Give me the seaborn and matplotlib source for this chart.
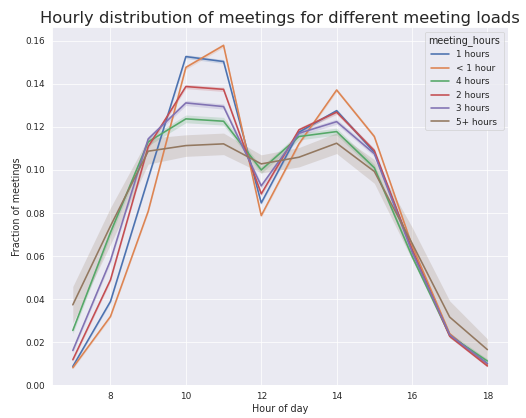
import numpy as np
import pandas as pd
import seaborn as sns
import matplotlib
matplotlib.use("Agg")
import matplotlib.pyplot as plt

hours = [7, 8, 9, 10, 11, 12, 13, 14, 15, 16, 17, 18]
groups = ["1 hours", "< 1 hour", "4 hours", "2 hours", "3 hours", "5+ hours"]

v_1h = [0.0088, 0.039, 0.096, 0.1526, 0.1503, 0.0847, 0.1175, 0.1275, 0.1082, 0.063, 0.0235, 0.0101]
v_lt1 = [0.0082, 0.032, 0.0808, 0.1476, 0.1578, 0.0788, 0.1121, 0.1371, 0.1155, 0.065, 0.0240, 0.0095]
v_4h = [0.0255, 0.071, 0.1130, 0.1237, 0.1226, 0.1000, 0.1155, 0.1178, 0.1010, 0.060, 0.0232, 0.0113]
v_2h = [0.0119, 0.049, 0.1108, 0.1387, 0.1374, 0.0889, 0.1186, 0.1268, 0.1090, 0.063, 0.0228, 0.0090]
v_3h = [0.0162, 0.058, 0.1144, 0.1311, 0.1294, 0.0926, 0.1170, 0.1224, 0.1075, 0.062, 0.0235, 0.0101]
v_5h = [0.0374, 0.074, 0.1087, 0.1113, 0.1121, 0.1028, 0.1059, 0.1124, 0.0993, 0.066, 0.0317, 0.0166]

# half-widths of the confidence bands
e_1h = [0.0006, 0.0007, 0.0008, 0.0009, 0.0009, 0.0008, 0.0008, 0.0008, 0.0008, 0.0007, 0.0005, 0.0004]
e_lt1 = [0.0006, 0.0007, 0.0008, 0.0009, 0.0009, 0.0008, 0.0008, 0.0008, 0.0008, 0.0007, 0.0005, 0.0004]
e_4h = [0.0015, 0.0018, 0.0018, 0.0018, 0.0018, 0.0016, 0.0016, 0.0016, 0.0016, 0.0014, 0.0012, 0.0010]
e_2h = [0.0008, 0.0009, 0.0010, 0.0010, 0.0010, 0.0010, 0.0010, 0.0010, 0.0010, 0.0009, 0.0007, 0.0005]
e_3h = [0.0010, 0.0011, 0.0012, 0.0012, 0.0012, 0.0012, 0.0012, 0.0012, 0.0012, 0.0010, 0.0008, 0.0006]
e_5h = [0.0085, 0.0085, 0.0060, 0.0050, 0.0050, 0.0042, 0.0045, 0.0048, 0.0055, 0.0075, 0.0075, 0.0050]

values = [v_1h, v_lt1, v_4h, v_2h, v_3h, v_5h]
errs = [e_1h, e_lt1, e_4h, e_2h, e_3h, e_5h]

rows = []
for g, vals, es in zip(groups, values, errs):
    for h, v, e in zip(hours, vals, es):
        rows.append({"hour": h, "meeting_hours": g, "frac": v, "lo": v - e, "hi": v + e})
df = pd.DataFrame(rows)

sns.set_theme(style="darkgrid", font_scale=1.1)
fig, ax = plt.subplots(figsize=(10, 418 / 52.6), dpi=52.6)
palette = sns.color_palette("deep", len(groups))
sns.lineplot(data=df, x="hour", y="frac", hue="meeting_hours", hue_order=groups,
             palette=palette, errorbar=None, ax=ax, linewidth=2.2)
for g, c in zip(groups, palette):
    sub = df[df["meeting_hours"] == g]
    ax.fill_between(sub["hour"], sub["lo"], sub["hi"], color=c, alpha=0.2, linewidth=0)

ax.set_ylim(bottom=0)
ax.set_xlabel("Hour of day")
ax.set_ylabel("Fraction of meetings")
ax.set_title("Hourly distribution of meetings for different meeting loads", fontsize=22.4)
ax.legend(title="meeting_hours", loc="upper right")
fig.subplots_adjust(left=0.099, right=0.966, top=0.935, bottom=0.078)
fig.savefig("out.png", dpi=52.6)
